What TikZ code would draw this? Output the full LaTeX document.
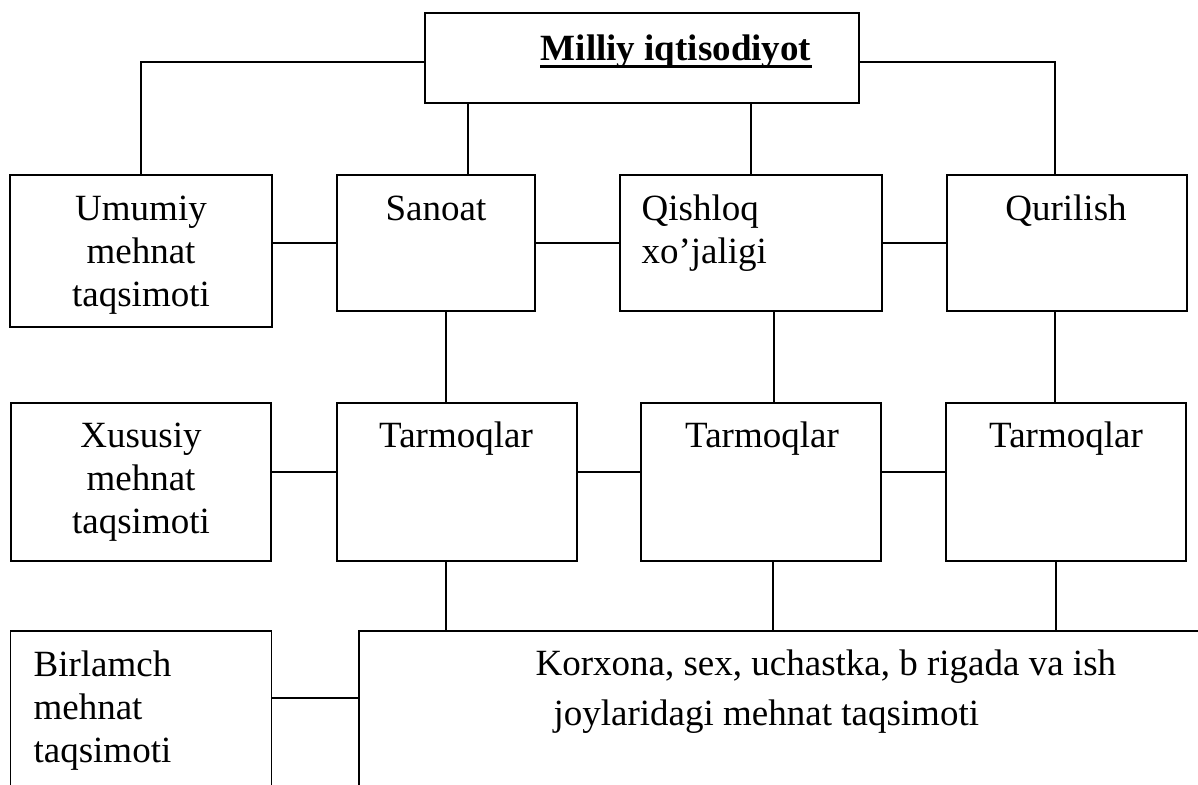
\documentclass[tikz,border=0pt]{standalone}
\usepackage{fontspec}
\setmainfont{Liberation Serif}
\usepackage{tikz}

\tikzset{
    box/.style={draw, line width=1.4pt, inner sep=0pt},
    txt/.style={inner sep=0pt, anchor=base, font=\fontsize{37}{43}\selectfont},
}

\begin{document}
\begin{tikzpicture}[x=1pt, y=-1pt, line width=1.2pt]
                        \clip (0,0) rectangle (1198,784);

                        \node (top) at (642,58) [box, minimum width=434pt, minimum height=90pt] {};
                        \node (umumiy) at (141,251) [box, minimum width=262pt, minimum height=152pt] {};
                        \node (sanoat) at (436,243) [box, minimum width=198pt, minimum height=136pt] {};
                        \node (qishloq) at (751,243) [box, minimum width=262pt, minimum height=136pt] {};
                        \node (qurilish) at (1067,243) [box, minimum width=240pt, minimum height=136pt] {};

                        \node (xususiy) at (141,482) [box, minimum width=260pt, minimum height=158pt] {};
                        \foreach \n/\x in {1/457, 2/761, 3/1066} {
                            \node (tarmoq\n) at (\x,482) [box, minimum width=240pt, minimum height=158pt] {};
                        }

                        \node (birlamch) at (141,731) [box, minimum width=261pt, minimum height=200pt] {};
                        \node (korxona) at (810,731) [box, minimum width=902pt, minimum height=200pt] {};

                        % multi-line texts sit on the baseline of their last line
                        \node (t-top) at (676,60) [txt] {\bfseries Milliy iqtisodiyot};
                        \draw [line width=3pt] ([yshift=-6.5pt]t-top.base west) -- ([yshift=-6.5pt]t-top.base east);
                        \node (t-umumiy) at (141,306) [txt, align=center] {Umumiy\\mehnat\\taqsimoti};
                        \node (t-sanoat) at (436,220) [txt] {Sanoat};
                        \node (t-qishloq) at (641,263) [txt, anchor=base west, align=left] {Qishloq\\xo’jaligi};
                        \node (t-qurilish) at (1066,220) [txt] {Qurilish};
                        \node (t-xususiy) at (141,533) [txt, align=center] {Xususiy\\mehnat\\taqsimoti};
                        \foreach \n/\x in {1/456, 2/762, 3/1066} {
                            \node (t-tarmoq\n) at (\x,447) [txt] {Tarmoqlar};
                        }
                        \node (t-birlamch) at (33,762) [txt, anchor=base west, align=left] {Birlamch\\mehnat\\taqsimoti};
                        \node (t-korxona) at (535,725) [txt, anchor=base west, align=left] {Korxona, sex, uchastka, b rigada va ish\\[7pt]\hspace*{18pt}joylaridagi mehnat taqsimoti};

                        \draw ([yshift=-4pt]top.west) -| (umumiy.north);
                        \draw ([yshift=-4pt]top.east) -| ([xshift=-12pt]qurilish.north);
                        \draw ([xshift=32pt]sanoat.north) -- ([xshift=32pt]sanoat.north |- top.south);
                        \draw (qishloq.north) -- (qishloq.north |- top.south);

                        \draw (sanoat.west -| umumiy.east) -- (sanoat.west);
                        \draw (sanoat.east) -- (qishloq.west);
                        \draw (qishloq.east) -- (qurilish.west);

                        \draw ([xshift=10pt]sanoat.south) -- ([xshift=10pt]sanoat.south |- tarmoq1.north);
                        \draw ([xshift=23pt]qishloq.south) -- ([xshift=23pt]qishloq.south |- tarmoq2.north);
                        \draw ([xshift=-12pt]qurilish.south) -- ([xshift=-12pt]qurilish.south |- tarmoq3.north);

                        \draw ([yshift=10pt]xususiy.east) -- ([yshift=10pt]tarmoq1.west);
                        \draw ([yshift=10pt]tarmoq1.east) -- ([yshift=10pt]tarmoq2.west);
                        \draw ([yshift=10pt]tarmoq2.east) -- ([yshift=10pt]tarmoq3.west);

                        \draw ([xshift=-11pt]tarmoq1.south) -- ([xshift=-11pt]tarmoq1.south |- korxona.north);
                        \draw ([xshift=12pt]tarmoq2.south) -- ([xshift=12pt]tarmoq2.south |- korxona.north);
                        \draw ([xshift=-10pt]tarmoq3.south) -- ([xshift=-10pt]tarmoq3.south |- korxona.north);
                        \draw ([yshift=33pt]birlamch.east) -- ([yshift=33pt]korxona.west);
                    \end{tikzpicture}
\end{document}
